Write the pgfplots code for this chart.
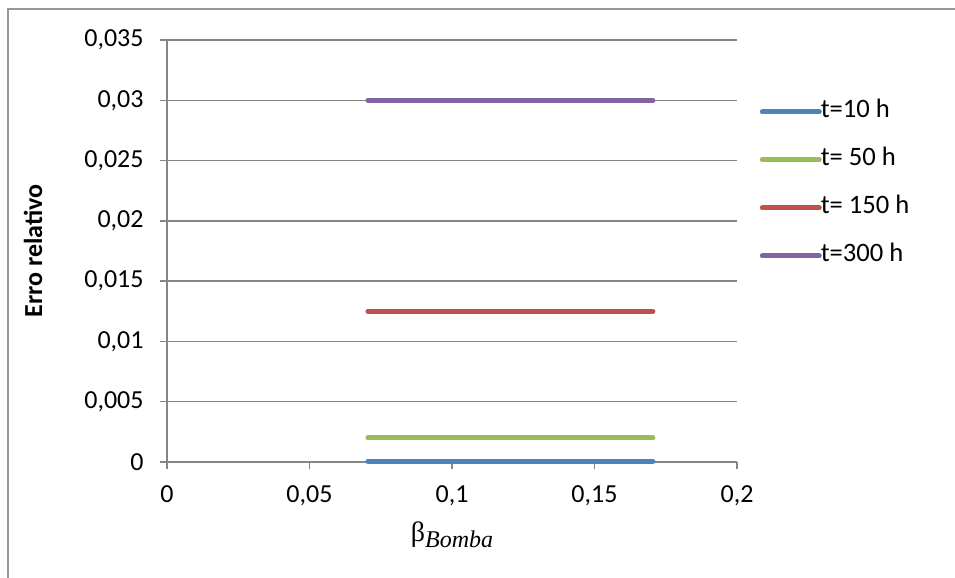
\documentclass[border=0pt]{standalone}
\usepackage{fontspec}
\setmainfont{Carlito}
\newfontfamily\greekserif{Liberation Serif}
\usepackage{pgfplots}
\pgfplotsset{compat=1.18}

\definecolor{sBlue}{HTML}{4F81BD}
\definecolor{sGreen}{HTML}{9BBB59}
\definecolor{sRed}{HTML}{C0504D}
\definecolor{sPurple}{HTML}{8064A2}
\definecolor{axgray}{HTML}{868686}

\begin{document}
\begin{tikzpicture}
% page is 955 x 578 half-points
\useasboundingbox (0pt,0pt) rectangle (477.5pt,289pt);
% chart frame (top and left edges)
\draw[color=axgray!85, line width=1pt] (4pt,-3pt) -- (4pt,284.5pt) -- (481pt,284.5pt);

\begin{axis}[
  at={(83.5pt,58pt)}, anchor=south west,
  scale only axis, width=285pt, height=211pt,
  xmin=0, xmax=0.2, ymin=0, ymax=0.035,
  scaled ticks=false,
  clip=false,
  axis x line=bottom, axis y line=left,
  axis line style={axgray, line width=0.75pt, -},
  xtick={0,0.05,0.1,0.15,0.2},
  xticklabels={0,{0,05},{0,1},{0,15},{0,2}},
  ytick={0,0.005,0.01,0.015,0.02,0.025,0.03,0.035},
  yticklabels={0,{0,005},{0,01},{0,015},{0,02},{0,025},{0,03},{0,035}},
  tick align=outside, major tick length=3.5pt,
  tick style={axgray, line width=0.75pt},
  ymajorgrids, grid style={axgray, line width=0.75pt},
  ticklabel style={font=\fontsize{13}{15}\selectfont},
  yticklabel style={xshift=-4.7pt},
  xticklabel style={yshift=-5pt},
  ylabel={\bfseries Erro relativo},
  ylabel style={at={(axis description cs:-0.235,0.5)}, anchor=center,
                font=\fontsize{13}{15}\selectfont},
  xlabel={{\greekserif\fontsize{14}{16}\selectfont β}\raisebox{-3pt}{\greekserif\itshape\fontsize{12}{14}\selectfont Bomba}},
  xlabel style={at={(axis description cs:0.5,-0.172)}, anchor=center},
  legend style={at={(1.04,0.659)}, anchor=west, draw=none, fill=none,
                inner sep=0pt, outer sep=0pt, row sep=12pt, column sep=-0.5pt,
                font=\fontsize{13.3}{15}\selectfont,
                nodes={inner sep=0pt, text height=9pt, text depth=3pt}},
  legend cell align=left,
  legend image code/.code={\draw[#1, line cap=round] (0pt,0pt) -- (28.5pt,0pt);},
]
\addplot[sBlue, line width=2.5pt, line cap=round] coordinates {(0.0705,0.00005) (0.1705,0.00005)};
\addlegendentry{t=10 h}
\addplot[sGreen, line width=2.5pt, line cap=round] coordinates {(0.0705,0.002) (0.1705,0.002)};
\addlegendentry{t= 50 h}
\addplot[sRed, line width=2.5pt, line cap=round] coordinates {(0.0705,0.0125) (0.1705,0.0125)};
\addlegendentry{t= 150 h}
\addplot[sPurple, line width=2.5pt, line cap=round] coordinates {(0.0705,0.03) (0.1705,0.03)};
\addlegendentry{t=300 h}
\end{axis}
\end{tikzpicture}
\end{document}
